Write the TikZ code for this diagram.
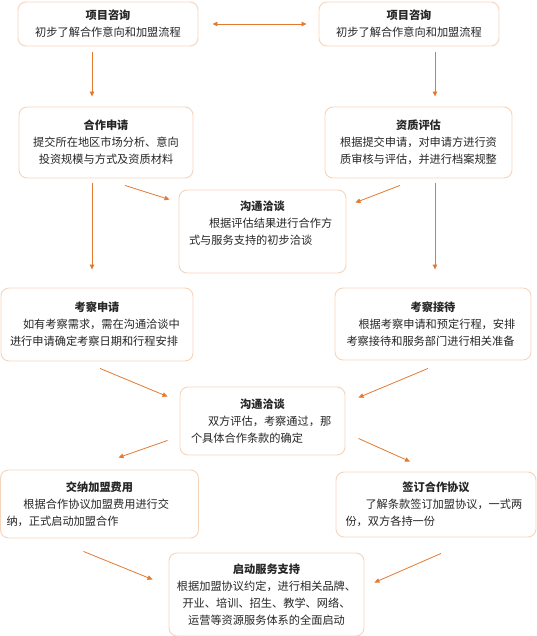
\documentclass[tikz,border=0pt]{standalone}
\usepackage{fontspec}
\setmainfont{Noto Sans CJK SC}
\usetikzlibrary{arrows.meta}

\definecolor{flowc}{RGB}{226,122,48}
\definecolor{edgec}{RGB}{246,212,188}

\begin{document}
\begin{tikzpicture}[
    x=1pt, y=-1pt,
    box/.style={draw=edgec, line width=0.9pt, rounded corners=8pt, fill=white,
                inner sep=0pt, text=black!85,
                font=\fontsize{11.2}{17}\selectfont},
    flow/.style={draw=flowc, line width=0.8pt, -{Triangle[length=5pt,width=4.5pt]}},
    both/.style={draw=flowc, line width=0.8pt, {Triangle[length=5pt,width=4.5pt]}-{Triangle[length=5pt,width=4.5pt]}}
]
  \useasboundingbox (0,0) rectangle (537,636);
  % Boxes
  \node[box, minimum width=180pt, minimum height=44pt, align=center] (b1) at (108,24)
    {\textbf{项目咨询}\\初步了解合作意向和加盟流程};
  \node[box, minimum width=180pt, minimum height=44pt, align=center] (b2) at (409,24)
    {\textbf{项目咨询}\\初步了解合作意向和加盟流程};
  \node[box, minimum width=174pt, minimum height=71pt, align=center] (b3) at (106,142.5)
    {\textbf{合作申请}\\提交所在地区市场分析、意向\\投资规模与方式及资质材料};
  \node[box, minimum width=187pt, minimum height=71pt, align=center] (b4) at (418.5,142.5)
    {\textbf{资质评估}\\根据提交申请，对申请方进行资\\质审核与评估，并进行档案规整};
  \node[box, minimum width=167pt, minimum height=83pt, text width=147pt, text depth=52pt] (b5) at (262.5,231.5)
    {\centering\textbf{沟通洽谈}\par\raggedright\hspace*{20pt}根据评估结果进行合作方\\式与服务支持的初步洽谈};
  \node[box, minimum width=192pt, minimum height=73pt, text width=174pt] (b6) at (97,324.5)
    {\centering\textbf{考察申请}\par\raggedright\hspace*{13pt}如有考察需求，需在沟通洽谈中\\进行申请确定考察日期和行程安排};
  \node[box, minimum width=196pt, minimum height=72pt, text width=173pt] (b7) at (433,324)
    {\centering\textbf{考察接待}\par\raggedright\hspace*{12pt}根据考察申请和预定行程，安排\\考察接待和服务部门进行相关准备};
  \node[box, minimum width=165pt, minimum height=68pt, text width=143pt] (b8) at (262.5,421)
    {\centering\textbf{沟通洽谈}\par\raggedright\hspace*{17pt}双方评估，考察通过，那\\个具体合作条款的确定};
  \node[box, minimum width=198pt, minimum height=68pt, text width=186pt] (b9) at (99.5,504)
    {\centering\textbf{交纳加盟费用}\par\raggedright\hspace*{17pt}根据合作协议加盟费用进行交\\纳，正式启动加盟合作};
  \node[box, minimum width=200pt, minimum height=65pt, text width=181pt] (b10) at (436,504.5)
    {\centering\textbf{签订合作协议}\par\raggedright\hspace*{20pt}了解条款签订加盟协议，一式两\\份，双方各持一份};
  \node[box, minimum width=195pt, minimum height=83pt, align=center] (b11) at (266.5,594.5)
    {\textbf{启动服务支持}\\根据加盟协议约定，进行相关品牌、\\开业、培训、招生、教学、网络、\\运营等资源服务体系的全面启动};
  % Connectors
  \draw[both] ([shift={(14,0)}]b1.east) -- ([shift={(-12,0)}]b2.west);
  \draw[flow] ([shift={(-16,6)}]b1.south) -- ([shift={(-14,-10)}]b3.north);
  \draw[flow] ([shift={(26,6)}]b2.south) -- ([shift={(16.5,-10)}]b4.north);
  \draw[flow] ([shift={(19,7)}]b3.south) -- ([shift={(-9,10)}]b5.north west);
  \draw[flow] ([shift={(-18.5,7)}]b4.south) -- ([shift={(9,13)}]b5.north east);
  \draw[flow] ([shift={(-14,5)}]b3.south) -- ([shift={(-5,-18)}]b6.north);
  \draw[flow] ([shift={(16.5,5)}]b4.south) -- ([shift={(2,-18)}]b7.north);
  \draw[flow] ([shift={(3,7)}]b6.south) -- ([shift={(-12,10)}]b8.north west);
  \draw[flow] ([shift={(-5,8)}]b7.south) -- ([shift={(13,11)}]b8.north east);
  \draw[flow] ([shift={(-12,-15)}]b8.south west) -- ([shift={(19,-12)}]b9.north);
  \draw[flow] ([shift={(13,-17)}]b8.south east) -- ([shift={(-26,-10)}]b10.north);
  \draw[flow] ([shift={(-16,13)}]b9.south) -- ([shift={(-16,-15)}]b11.west);
  \draw[flow] ([shift={(5,16)}]b10.south) -- ([shift={(10,-12)}]b11.east);
\end{tikzpicture}
\end{document}
